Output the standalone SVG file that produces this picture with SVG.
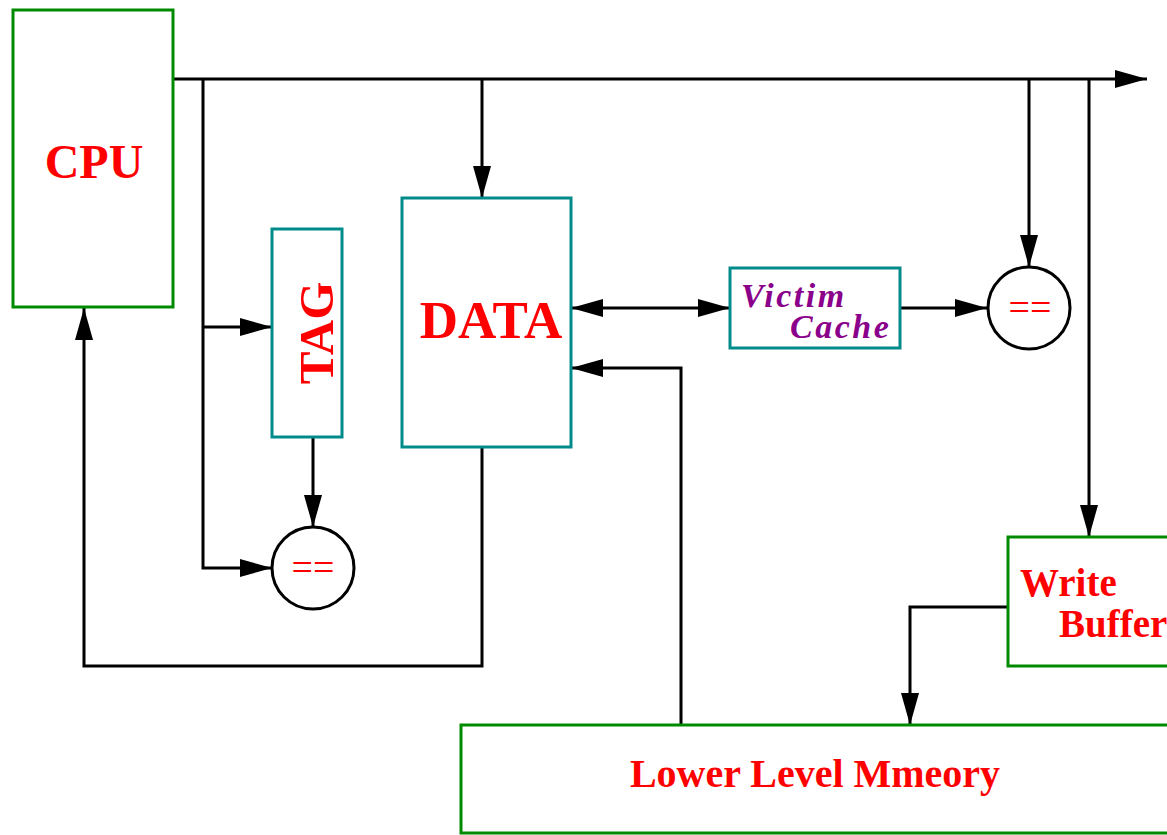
<svg xmlns="http://www.w3.org/2000/svg" width="1167" height="835" viewBox="0 0 1167 835">
<style>
.g{fill:#fff;stroke:#008a00;stroke-width:3}
.t{fill:#fff;stroke:#008b8b;stroke-width:3}
.c{fill:#fff;stroke:#000;stroke-width:3}
.w{fill:none;stroke:#000;stroke-width:3}
.lb{font-family:"Liberation Serif",serif;font-weight:bold;fill:#ff0000}
.eq{font-family:"Liberation Serif",serif;fill:#ff0000;font-size:38px}
.vc{font-family:"Liberation Serif",serif;font-weight:bold;font-style:italic;fill:#8b008b;font-size:34px;letter-spacing:2.5px}
</style>
<defs>
<marker id="a" markerUnits="userSpaceOnUse" markerWidth="32" markerHeight="18" viewBox="0 0 32 18" refX="32" refY="9" orient="auto-start-reverse">
<path d="M0,0 L32,9 L0,18 Z" fill="#000"/>
</marker>
</defs>
<g id="connectors">
<path class="w" d="M173,79 H1147" marker-end="url(#a)"/>
<path class="w" d="M203,79 V568 H272" marker-end="url(#a)"/>
<path class="w" d="M203,327 H272" marker-end="url(#a)"/>
<path class="w" d="M482,79 V198" marker-end="url(#a)"/>
<path class="w" d="M313,437 V527" marker-end="url(#a)"/>
<path class="w" d="M482,447 V666 H84 V308" marker-end="url(#a)"/>
<path class="w" d="M571,308 H730" marker-start="url(#a)" marker-end="url(#a)"/>
<path class="w" d="M900,308 H987" marker-end="url(#a)"/>
<path class="w" d="M1029,79 V267" marker-end="url(#a)"/>
<path class="w" d="M1089,79 V537" marker-end="url(#a)"/>
<path class="w" d="M1008,607 H910 V725" marker-end="url(#a)"/>
<path class="w" d="M681,725 V368 H571" marker-end="url(#a)"/>
</g>
<g id="cpu">
<rect class="g" x="13" y="10" width="160" height="297"/>
<text class="lb" x="94" y="178" font-size="48" text-anchor="middle">CPU</text>
</g>
<g id="tag">
<rect class="t" x="272" y="229" width="70" height="208"/>
<text class="lb" transform="translate(333,333) rotate(-90)" font-size="49" text-anchor="middle">TAG</text>
</g>
<g id="data">
<rect class="t" x="402" y="198" width="169" height="249"/>
<text class="lb" x="491" y="338" font-size="53" text-anchor="middle">DATA</text>
</g>
<g id="cmp1">
<circle class="c" cx="313" cy="568" r="41"/>
<text class="eq" x="313" y="580" text-anchor="middle">==</text>
</g>
<g id="victim">
<rect class="t" x="730" y="268" width="170" height="80"/>
<text class="vc" x="741" y="307">Victim</text>
<text class="vc" x="790" y="338">Cache</text>
</g>
<g id="cmp2">
<circle class="c" cx="1029" cy="308" r="41"/>
<text class="eq" x="1030" y="320" text-anchor="middle">==</text>
</g>
<g id="wb">
<rect class="g" x="1008" y="537" width="170" height="129"/>
<text class="lb" x="1020" y="596" font-size="39">Write</text>
<text class="lb" x="1059" y="637" font-size="39">Buffer</text>
</g>
<g id="mem">
<rect class="g" x="461" y="725" width="720" height="108"/>
<text class="lb" x="815" y="787" font-size="40" text-anchor="middle">Lower Level Mmeory</text>
</g>
</svg>
